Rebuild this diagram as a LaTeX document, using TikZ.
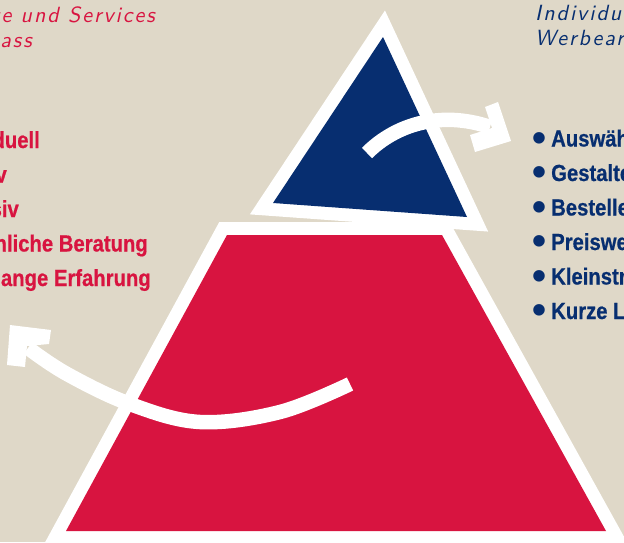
\documentclass[tikz,border=0pt]{standalone}
\usepackage{fontspec}
\setmainfont{Liberation Sans}
\newfontfamily\cbold{Liberation Sans}[FakeStretch=0.87, FakeBold=0.6]
\newfontfamily\hand{lmsans10-oblique.otf}[LetterSpace=9]
\definecolor{bg}{RGB}{223,216,200}
\definecolor{crim}{RGB}{216,20,64}
\definecolor{navy}{RGB}{7,46,112}
\newcommand{\bigbul}{\smash{\raisebox{-4.5pt}{\normalfont\bfseries\fontsize{40}{40}\selectfont •}}}
\begin{document}
\begin{tikzpicture}[x=1pt,y=-1pt,
  lst/.style={font=\cbold\bfseries\fontsize{23.3}{28}\selectfont, inner sep=0pt},
  hw/.style={font=\hand\fontsize{22}{25}\selectfont, inner sep=0pt},
  rim/.style={fill=white, draw=white, line width=26pt, line join=miter},
  shaft/.style={draw=white, line width=14.5pt, line cap=butt},
  head/.style={fill=white}]
\useasboundingbox (0,0) rectangle (624,542);
\clip (0,0) rectangle (624,542);
\fill[bg] (0,0) rectangle (624,542);
% lower trapezoid
\coordinate (tl) at (227,235);
\coordinate (tr) at (442,235);
\coordinate (br) at (606,531);
\coordinate (bl) at (66,531);
\filldraw[rim] (tl) -- (tr) -- (br) -- (bl) -- cycle;
\fill[crim] (tl) -- (tr) -- (br) -- (bl) -- cycle;
% upper triangle
\coordinate (ap) at (383,37);
\coordinate (tbr) at (467,217);
\coordinate (tbl) at (273,203);
\filldraw[rim] (ap) -- (tbr) -- (tbl) -- cycle;
\fill[navy] (ap) -- (tbr) -- (tbl) -- cycle;
% upper arrow
\coordinate (ua0) at (367,153);
\coordinate (ua1) at (490,127);
\draw[shaft] (ua0) .. controls (395,125) and (440,110) .. (ua1);
\fill[head] (485,107) -- (498,102) -- (511,141) -- (475,152) -- (470,135) -- (492,128) -- cycle;
% lower arrow
\draw[shaft] plot[smooth, tension=0.6] coordinates {(350,384) (280,412) (200,422) (130,404) (67,374) (28,348)};
\fill[head] (10,325) -- (51,330) -- (49,344) -- (27,346) -- (25,367) -- (7,365) -- cycle;
% left list
\node[lst, text=crim, anchor=base east] (l1) at (40,148) {Individuell};
\node[lst, text=crim, anchor=base east] (l2) at (7,182.5) {Kreativ};
\node[lst, text=crim, anchor=base east] (l3) at (19,217) {Exklusiv};
\node[lst, text=crim, anchor=base east] (l4) at (148,251.5) {Persönliche Beratung};
\node[lst, text=crim, anchor=base east] (l5) at (151,286) {Jahrelange Erfahrung};
% right list
\node[lst, text=navy, anchor=base west] (r1) at (532,146.5) {\bigbul\hspace{5pt}Auswählen};
\node[lst, text=navy, anchor=base west] (r2) at (532,181) {\bigbul\hspace{5pt}Gestalten};
\node[lst, text=navy, anchor=base west] (r3) at (532,215.5) {\bigbul\hspace{5pt}Bestellen};
\node[lst, text=navy, anchor=base west] (r4) at (532,250) {\bigbul\hspace{5pt}Preiswert};
\node[lst, text=navy, anchor=base west] (r5) at (532,284.5) {\bigbul\hspace{5pt}Kleinstmengen};
\node[lst, text=navy, anchor=base west] (r6) at (532,319) {\bigbul\hspace{5pt}Kurze Lieferzeiten};
% handwritten notes
\node[hw, text=crim, anchor=base east] (h1) at (155,22) {Produkte und Services};
\node[hw, text=crim, anchor=base east] (h2) at (32,47) {nach Mass};
\node[hw, text=navy, anchor=base west] (h3) at (535,20) {Individuelle};
\node[hw, text=navy, anchor=base west] (h4) at (535,45) {Werbeartikel};
\end{tikzpicture}
\end{document}
